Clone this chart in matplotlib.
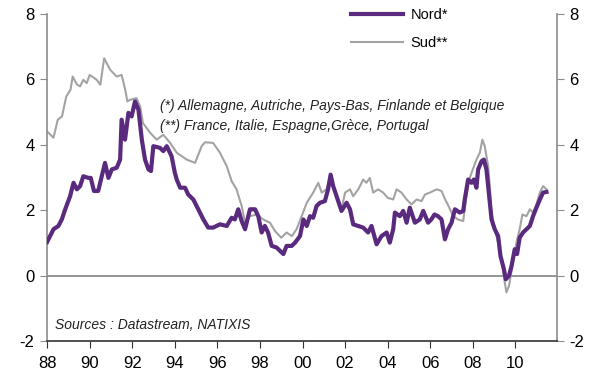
import matplotlib

matplotlib.use("Agg")
import matplotlib.pyplot as plt

plt.rcParams["font.family"] = ["Liberation Sans", "DejaVu Sans"]
plt.rcParams["axes.unicode_minus"] = False

# ── Data (decimal years) ─────────────────────────────────────────
nord_years = [
    1988.0, 1988.3, 1988.53, 1988.69, 1988.85, 1989.08, 1989.24, 1989.4, 1989.55,
    1989.7, 1989.94, 1990.05, 1990.2, 1990.4, 1990.57, 1990.72, 1990.88, 1991.04,
    1991.27, 1991.43, 1991.5, 1991.66, 1991.82, 1991.97, 1992.13, 1992.29, 1992.45,
    1992.6, 1992.76, 1992.88, 1992.99, 1993.3, 1993.46, 1993.62, 1993.77, 1993.85,
    1994.0, 1994.09, 1994.25, 1994.48, 1994.63, 1994.87, 1995.1, 1995.34, 1995.57,
    1995.8, 1996.12, 1996.44, 1996.67, 1996.82, 1996.98, 1997.14, 1997.3, 1997.53,
    1997.77, 1997.92, 1998.08, 1998.23, 1998.38, 1998.55, 1998.78, 1999.1, 1999.25,
    1999.49, 1999.65, 1999.88, 2000.04, 2000.2, 2000.35, 2000.5, 2000.66, 2000.82,
    2001.05, 2001.2, 2001.32, 2001.44, 2001.6, 2001.83, 2002.07, 2002.23, 2002.38,
    2002.62, 2002.85, 2003.08, 2003.24, 2003.48, 2003.71, 2003.95, 2004.1, 2004.26,
    2004.34, 2004.57, 2004.73, 2004.89, 2005.04, 2005.28, 2005.51, 2005.67, 2005.9,
    2006.05, 2006.2, 2006.36, 2006.53, 2006.69, 2006.84, 2007.0, 2007.16, 2007.39,
    2007.55, 2007.62, 2007.78, 2007.94, 2008.05, 2008.17, 2008.25, 2008.41, 2008.52,
    2008.64, 2008.77, 2008.88, 2009.03, 2009.19, 2009.3, 2009.46, 2009.55, 2009.7,
    2009.82, 2009.97, 2010.08, 2010.2, 2010.36, 2010.52, 2010.68, 2010.83, 2010.99,
    2011.15, 2011.3, 2011.46,
]
nord_values = [
    1.03, 1.42, 1.52, 1.72, 2.03, 2.43, 2.84, 2.64, 2.74,
    3.04, 2.99, 2.99, 2.59, 2.59, 3.04, 3.45, 2.99, 3.25,
    3.30, 3.55, 4.77, 4.16, 4.98, 4.87, 5.33, 5.08, 4.16,
    3.55, 3.25, 3.20, 3.96, 3.91, 3.81, 3.96, 3.76, 3.65,
    3.15, 2.94, 2.69, 2.69, 2.48, 2.33, 2.03, 1.72, 1.47,
    1.47, 1.57, 1.52, 1.77, 1.72, 2.03, 1.67, 1.42, 2.03,
    2.03, 1.82, 1.32, 1.52, 1.32, 0.91, 0.86, 0.66, 0.91,
    0.91, 1.01, 1.21, 1.72, 1.52, 1.82, 1.77, 2.13, 2.23,
    2.28, 2.64, 3.09, 2.74, 2.43, 1.98, 2.23, 2.03, 1.57,
    1.52, 1.47, 1.32, 1.52, 0.96, 1.21, 1.32, 1.01, 1.42,
    1.93, 1.82, 1.98, 1.62, 2.08, 1.62, 1.72, 1.98, 1.62,
    1.72, 1.87, 1.82, 1.72, 1.11, 1.42, 1.62, 2.03, 1.93,
    1.98, 2.33, 2.94, 2.84, 2.94, 2.69, 3.25, 3.50, 3.55,
    3.25, 2.43, 1.72, 1.42, 1.21, 0.60, 0.20, -0.11, 0.0,
    0.30, 0.81, 0.66, 1.16, 1.32, 1.42, 1.52, 1.82, 2.08,
    2.33, 2.54, 2.56,
]

sud_years = [
    1988.0, 1988.3, 1988.5, 1988.7, 1988.9, 1989.1, 1989.2, 1989.4, 1989.55,
    1989.7, 1989.86, 1990.0, 1990.33, 1990.5, 1990.68, 1990.96, 1991.27, 1991.5,
    1991.67, 1991.77, 1991.9, 1992.2, 1992.37, 1992.5, 1992.84, 1993.15, 1993.46,
    1993.77, 1994.09, 1994.56, 1994.95, 1995.26, 1995.42, 1995.8, 1996.12, 1996.44,
    1996.67, 1996.9, 1997.14, 1997.3, 1997.53, 1997.85, 1998.15, 1998.47, 1998.7,
    1999.0, 1999.25, 1999.5, 1999.72, 1999.96, 2000.2, 2000.5, 2000.74, 2000.9,
    2001.13, 2001.29, 2001.44, 2001.68, 2001.83, 2002.0, 2002.23, 2002.38, 2002.62,
    2002.85, 2003.0, 2003.16, 2003.32, 2003.55, 2003.79, 2004.0, 2004.26, 2004.42,
    2004.65, 2004.89, 2005.12, 2005.36, 2005.59, 2005.75, 2005.98, 2006.3, 2006.53,
    2006.7, 2006.86, 2007.08, 2007.3, 2007.55, 2007.7, 2007.83, 2008.0, 2008.17,
    2008.33, 2008.45, 2008.56, 2008.72, 2008.8, 2008.88, 2009.03, 2009.19, 2009.35,
    2009.5, 2009.58, 2009.7, 2009.86, 2010.05, 2010.2, 2010.33, 2010.52, 2010.68,
    2010.83, 2010.99, 2011.15, 2011.3, 2011.46,
]
sud_values = [
    4.41, 4.22, 4.77, 4.87, 5.48, 5.69, 6.09, 5.85, 5.79,
    5.99, 5.89, 6.14, 5.99, 5.84, 6.65, 6.30, 6.09, 6.14,
    5.69, 5.33, 5.38, 5.43, 5.18, 4.67, 4.37, 4.16, 4.31,
    4.07, 3.76, 3.55, 3.45, 3.96, 4.08, 4.06, 3.76, 3.35,
    2.89, 2.64, 2.13, 1.62, 1.82, 1.87, 1.72, 1.62, 1.37,
    1.16, 1.32, 1.21, 1.42, 1.82, 2.23, 2.54, 2.84, 2.54,
    2.64, 3.04, 2.74, 2.33, 2.03, 2.54, 2.64, 2.43, 2.64,
    2.94, 2.84, 2.99, 2.54, 2.64, 2.54, 2.38, 2.33, 2.64,
    2.54, 2.33, 2.18, 2.33, 2.28, 2.48, 2.54, 2.64, 2.59,
    2.33, 2.13, 1.82, 1.72, 1.67, 2.43, 2.94, 3.25, 3.55,
    3.76, 4.16, 3.96, 3.35, 2.74, 1.93, 1.42, 1.01, 0.50,
    -0.21, -0.51, -0.31, 0.30, 1.01, 1.42, 1.87, 1.82, 2.03,
    1.93, 2.18, 2.54, 2.74, 2.64,
]

tick_years = [1988, 1990, 1992, 1994, 1996, 1998, 2000, 2002, 2004, 2006, 2008, 2010]
tick_labels = ["88", "90", "92", "94", "96", "98", "00", "02", "04", "06", "08", "10"]
y_ticks = [-2, 0, 2, 4, 6, 8]

PURPLE = "#5a2a7e"
GREY = "#a3a3a3"
AXIS_GREY = "#8c8c8c"

fig = plt.figure(figsize=(6.04, 3.92), dpi=100)
ax = fig.add_axes([0.078, 0.13, 0.844, 0.834])

ax.axhline(0, color=AXIS_GREY, lw=1.3, zorder=1)
ax.plot(sud_years, sud_values, color=GREY, lw=1.5, label="Sud**", zorder=2)
ax.plot(nord_years, nord_values, color=PURPLE, lw=3.0, label="Nord*", zorder=3)

ax.set_xlim(1988, 2011.95)
ax.set_ylim(-2, 8)
ax.set_xticks(tick_years)
ax.set_xticklabels(tick_labels)
ax.set_yticks(y_ticks)

ax.spines["top"].set_visible(False)
ax.spines["left"].set_color(AXIS_GREY)
ax.spines["right"].set_color(AXIS_GREY)
ax.spines["bottom"].set_color("#333333")
for s in ["left", "right", "bottom"]:
    ax.spines[s].set_linewidth(1.2)

ax.tick_params(axis="y", which="both", left=True, right=True, labelleft=True,
               labelright=True, direction="out", length=5, color=AXIS_GREY,
               labelsize=12, pad=4)
ax.tick_params(axis="x", direction="out", length=5, color="#333333",
               labelsize=12, pad=6)

# legend: Nord first, then Sud
handles, labels = ax.get_legend_handles_labels()
ax.legend(handles[::-1], labels[::-1], loc="upper left", bbox_to_anchor=(0.57, 1.06),
          frameon=False, fontsize=10.5, handlelength=3.6, labelspacing=1.0,
          handletextpad=0.5)

ax.text(0.222, 0.719, "(*) Allemagne, Autriche, Pays-Bas, Finlande et Belgique",
        transform=ax.transAxes, fontsize=10, style="italic", color="#222222",
        va="center")
ax.text(0.222, 0.657, "(**) France, Italie, Espagne,Grèce, Portugal",
        transform=ax.transAxes, fontsize=10, style="italic", color="#222222",
        va="center")
ax.text(0.016, 0.05, "Sources : Datastream, NATIXIS", transform=ax.transAxes,
        fontsize=10, style="italic", color="#222222", va="center")

fig.savefig("out.png", dpi=100)
